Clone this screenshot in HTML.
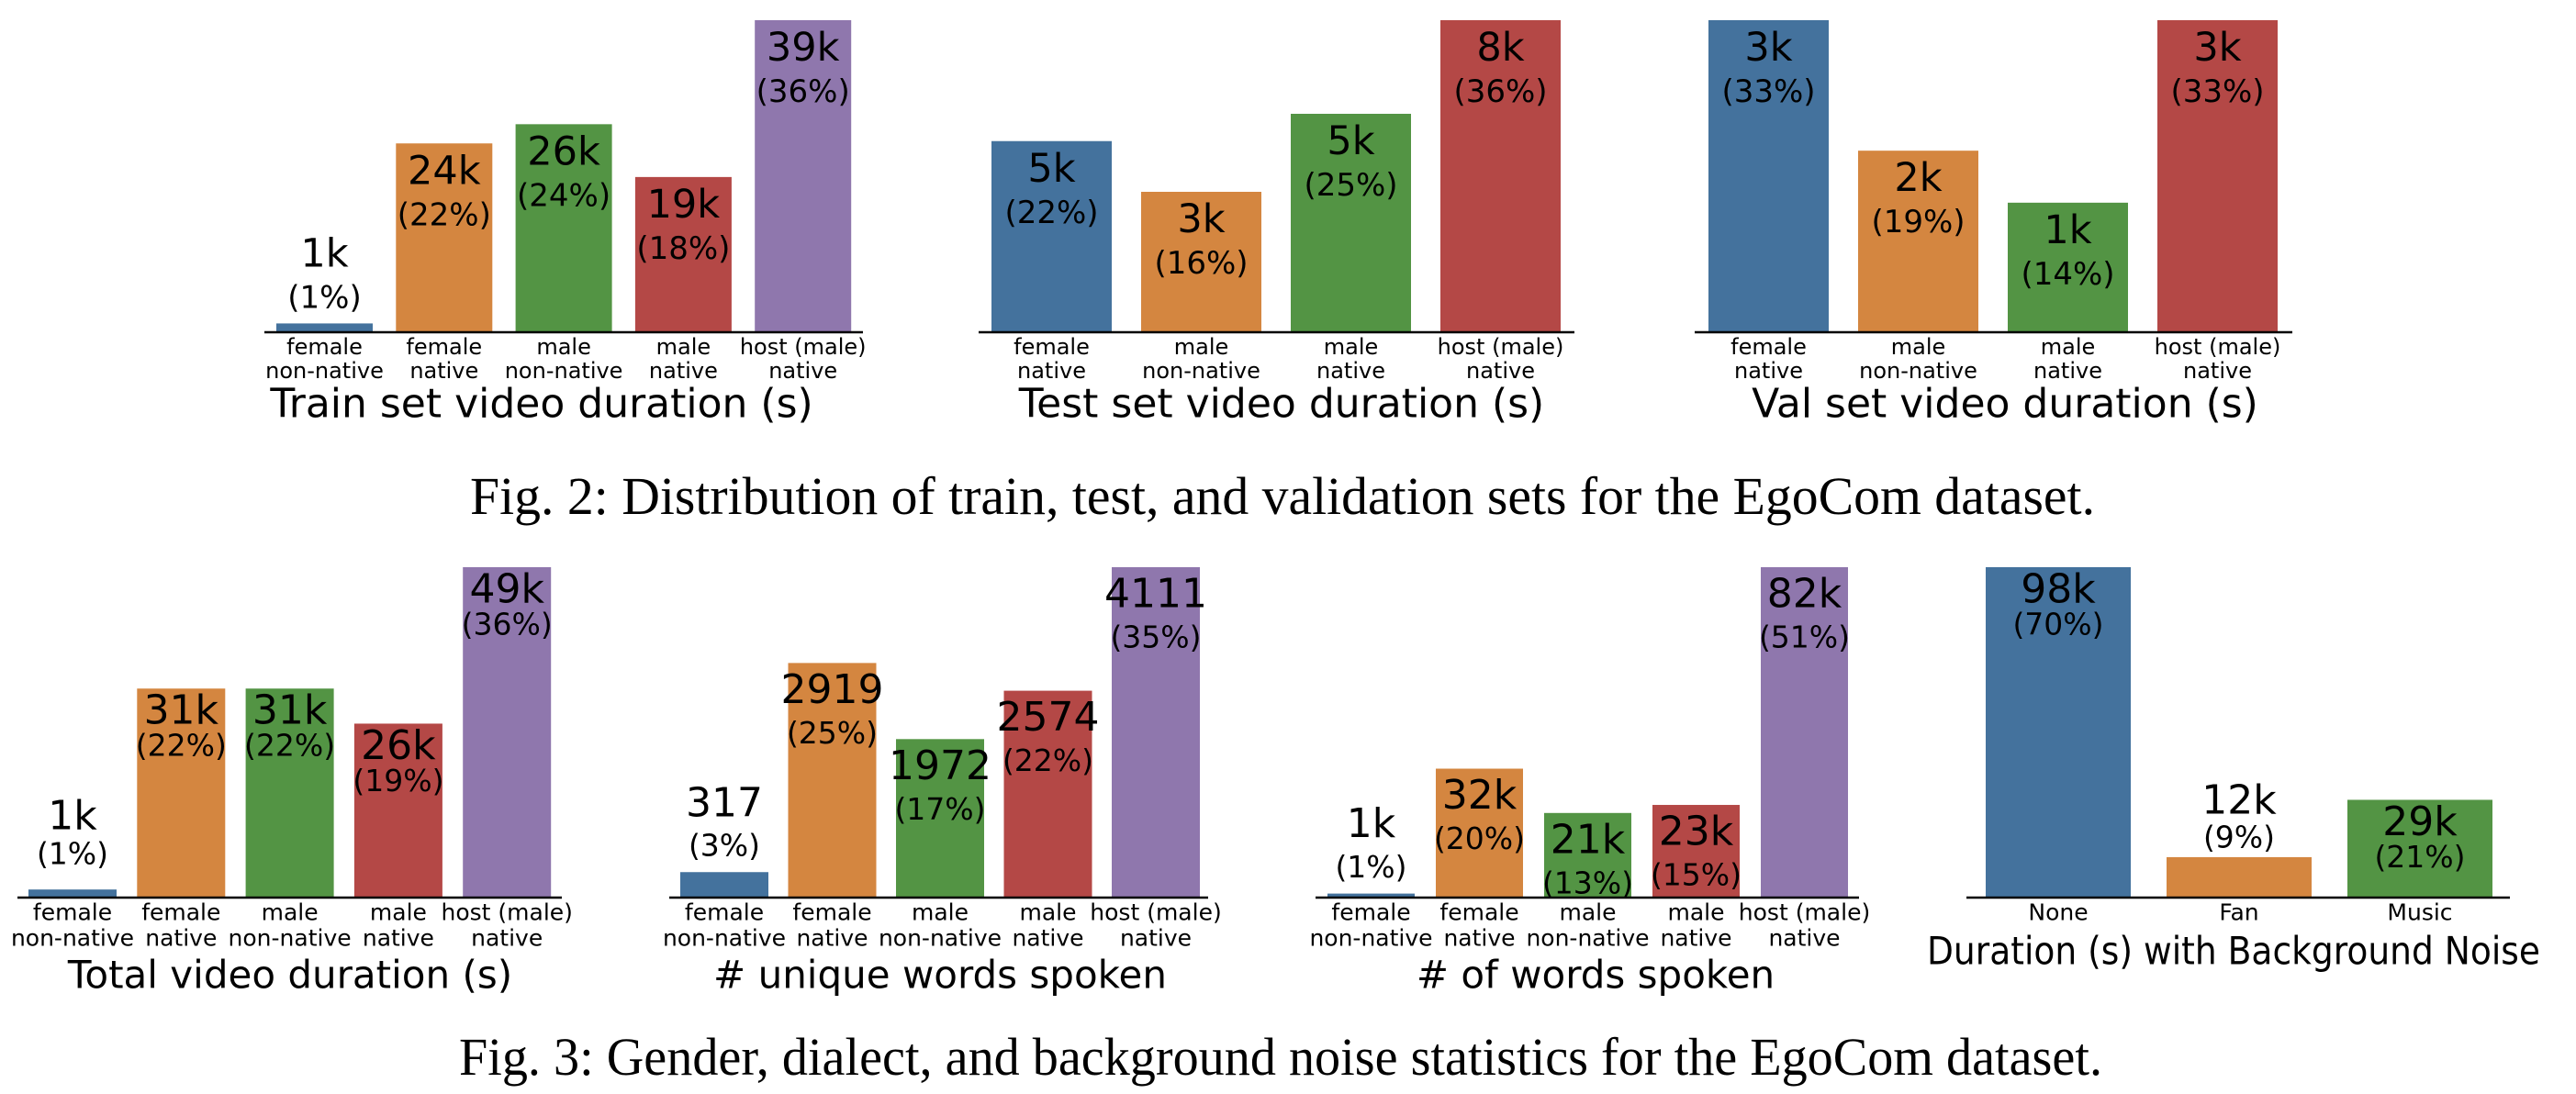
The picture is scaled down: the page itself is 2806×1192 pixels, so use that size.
<!DOCTYPE html>
<html><head><meta charset="utf-8">
<style>
html,body{margin:0;padding:0;background:#fff;}
svg{display:block;}
text{font-family:"DejaVu Sans","Liberation Sans",sans-serif;fill:#000;}
.cap{font-family:"Liberation Serif",serif;}
</style></head>
<body>
<svg id="fig" width="2806" height="1192" viewBox="0 0 2806 1192" xmlns="http://www.w3.org/2000/svg">
<text class="cap" x="512" y="560" font-size="58" textLength="1770" lengthAdjust="spacingAndGlyphs">Fig. 2: Distribution of train, test, and validation sets for the EgoCom dataset.</text>
<text class="cap" x="500" y="1171" font-size="58" textLength="1790" lengthAdjust="spacingAndGlyphs">Fig. 3: Gender, dialect, and background noise statistics for the EgoCom dataset.</text>
</svg>
<script>
// ---- data ----
const trainCats = ["female|non-native","female|native","male|non-native","male|native","host (male)|native"];
const trainVals = [1.1, 23.6, 26.0, 19.4, 39.0];
const trainLbl = ["1k","24k","26k","19k","39k"];
const trainPct = ["(1%)","(22%)","(24%)","(18%)","(36%)"];

const testCats = ["female|native","male|non-native","male|native","host (male)|native"];
const testVals = [4.9, 3.6, 5.6, 8.0];
const testLbl = ["5k","3k","5k","8k"];
const testPct = ["(22%)","(16%)","(25%)","(36%)"];

const valCats = ["female|native","male|non-native","male|native","host (male)|native"];
const valVals = [3.3, 1.92, 1.37, 3.3];
const valLbl = ["3k","2k","1k","3k"];
const valPct = ["(33%)","(19%)","(14%)","(33%)"];

const totalCats = ["female|non-native","female|native","male|non-native","male|native","host (male)|native"];
const totalVals = [1.2, 31.0, 31.0, 25.8, 49.0];
const totalLbl = ["1k","31k","31k","26k","49k"];
const totalPct = ["(1%)","(22%)","(22%)","(19%)","(36%)"];

const uniqCats = ["female|non-native","female|native","male|non-native","male|native","host (male)|native"];
const uniqVals = [317, 2919, 1972, 2574, 4111];
const uniqLbl = ["317","2919","1972","2574","4111"];
const uniqPct = ["(3%)","(25%)","(17%)","(22%)","(35%)"];

const wordsCats = ["female|non-native","female|native","male|non-native","male|native","host (male)|native"];
const wordsVals = [1.0, 32.0, 21.0, 23.0, 82.0];
const wordsLbl = ["1k","32k","21k","23k","82k"];
const wordsPct = ["(1%)","(20%)","(13%)","(15%)","(51%)"];

const noiseCats = ["None","Fan","Music"];
const noiseVals = [98.0, 12.0, 29.0];
const noiseLbl = ["98k","12k","29k"];
const noisePct = ["(70%)","(9%)","(21%)"];

const COLORS = ["#44729d","#d48640","#539444","#b44846","#8f77ad"];
const NS = "http://www.w3.org/2000/svg";
const svg = document.getElementById("fig");

function mk(tag, attrs, parent){
  const e = document.createElementNS(NS, tag);
  for (const k in attrs) e.setAttribute(k, attrs[k]);
  parent.appendChild(e);
  return e;
}

function chart(cfg){
  const g = mk("g", {}, svg);
  
  
  const n = cfg.cats.length;
  const max = Math.max(...cfg.vals);
  const yScale = v => cfg.base - v / max * cfg.h;
  const xCenter = i => cfg.x0 + cfg.step * i + cfg.bw / 2;
  for (let i = 0; i < n; i++){
    const top = yScale(cfg.vals[i]);
    const r = mk("rect", {x: xCenter(i) - cfg.bw/2, y: top, width: cfg.bw, height: cfg.base - top, fill: COLORS[i]}, g);
    
    
    const inside = (cfg.base - top) > 60;
    const y1 = inside ? top + cfg.in1 : top + cfg.out1;
    const y2 = inside ? top + cfg.in2 : top + cfg.out2;
    const t1 = mk("text", {x: xCenter(i), y: y1, "font-size": cfg.vfs, "text-anchor": "middle", "dominant-baseline": "central"}, g);
    t1.textContent = cfg.lbl[i];
    
    
    const t2 = mk("text", {x: xCenter(i), y: y2, "font-size": cfg.pfs, "text-anchor": "middle", "dominant-baseline": "central"}, g);
    t2.textContent = cfg.pct[i];
    
    
    const lines = cfg.cats[i].split("|");
    lines.forEach((ln, j) => {
      const t = mk("text", {x: xCenter(i), y: cfg.tick1 + j * cfg.tickGap, "font-size": cfg.tfs, "text-anchor": "middle", "dominant-baseline": "central"}, g);
      t.textContent = ln;
      
      
    });
  }
  const ax = mk("line", {x1: cfg.ax0, x2: cfg.ax1, y1: cfg.base, y2: cfg.base, stroke: "#000", "stroke-width": 2.5}, g);
  
  
  const ta = {x: cfg.titleX, y: cfg.titleY, "font-size": cfg.titleFs, "text-anchor": "middle", "dominant-baseline": "central"};
  if (cfg.titleLen) { ta.textLength = cfg.titleLen; ta.lengthAdjust = "spacingAndGlyphs"; }
  const tt = mk("text", ta, g);
  tt.textContent = cfg.title;
  
  
}

const F2 = {base: 362, h: 340, vfs: 43, pfs: 34, tfs: 24, tick1: 378, tickGap: 26, titleY: 440, titleFs: 44, in1: 30, in2: 78, out1: -76, out2: -28};
const F3 = {base: 978, h: 360, vfs: 44, pfs: 33, tfs: 25, tick1: 994, tickGap: 28, titleY: 1062, titleFs: 42};

chart(Object.assign({}, F2, {name: "train-chart", cats: trainCats, vals: trainVals, lbl: trainLbl, pct: trainPct, x0: 301, step: 130.3, bw: 105, ax0: 288, ax1: 940, titleX: 590, title: "Train set video duration (s)"}));
chart(Object.assign({}, F2, {name: "test-chart", cats: testCats, vals: testVals, lbl: testLbl, pct: testPct, x0: 1080, step: 163, bw: 131, ax0: 1066, ax1: 1715, titleX: 1396, title: "Test set video duration (s)"}));
chart(Object.assign({}, F2, {name: "val-chart", cats: valCats, vals: valVals, lbl: valLbl, pct: valPct, x0: 1861, step: 163, bw: 131, ax0: 1846, ax1: 2497, titleX: 2184, title: "Val set video duration (s)"}));

chart(Object.assign({}, F3, {name: "total-duration-chart", cats: totalCats, vals: totalVals, lbl: totalLbl, pct: totalPct, x0: 31, step: 118.3, bw: 96, ax0: 19, ax1: 612, titleX: 316, title: "Total video duration (s)", in1: 24, in2: 62, out1: -80, out2: -39}));
chart(Object.assign({}, F3, {name: "unique-words-chart", cats: uniqCats, vals: uniqVals, lbl: uniqLbl, pct: uniqPct, x0: 741, step: 117.5, bw: 96, ax0: 729, ax1: 1316, titleX: 1024, title: "# unique words spoken", in1: 29, in2: 76, out1: -75, out2: -29}));
chart(Object.assign({}, F3, {name: "words-chart", cats: wordsCats, vals: wordsVals, lbl: wordsLbl, pct: wordsPct, x0: 1446, step: 118, bw: 95, ax0: 1433, ax1: 2025, titleX: 1738, title: "# of words spoken", in1: 29, in2: 76, out1: -76, out2: -29}));
chart(Object.assign({}, F3, {name: "noise-chart", cats: noiseCats, vals: noiseVals, lbl: noiseLbl, pct: noisePct, x0: 2163, step: 197, bw: 158, ax0: 2142, ax1: 2734, titleX: 2433, titleLen: 668, title: "Duration (s) with Background Noise", titleY: 1036, in1: 24, in2: 62, out1: -62, out2: -22}));
</script>
</body></html>
